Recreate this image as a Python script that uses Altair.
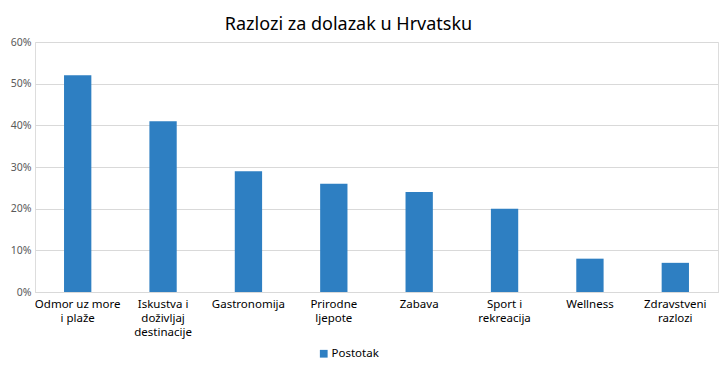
import altair as alt
import pandas as pd

categories = ["Odmor uz more|i plaže", "Iskustva i|doživljaj|destinacije", "Gastronomija",
              "Prirodne|ljepote", "Zabava", "Sport i|rekreacija", "Wellness", "Zdravstveni|razlozi"]
values = [0.52, 0.41, 0.29, 0.26, 0.24, 0.20, 0.08, 0.07]
series = ["Postotak"] * len(categories)
y_ticks = [0, 0.1, 0.2, 0.3, 0.4, 0.5, 0.6]

df = pd.DataFrame({"cat": categories, "val": values, "series": series})

FONT = "Noto Sans"

chart = alt.Chart(df).mark_bar(color="#2E7FC2").encode(
    x=alt.X("cat:N", sort=categories, title=None,
            scale=alt.Scale(paddingInner=0.68, paddingOuter=0.34),
            axis=alt.Axis(labelAngle=0, labelExpr="split(datum.label, '|')",
                          labelLineHeight=14, labelFontSize=11.5, labelColor="#000000",
                          labelFont=FONT, ticks=False, domainColor="#d9d9d9",
                          labelPadding=6, labelBaseline="top")),
    y=alt.Y("val:Q", title=None,
            scale=alt.Scale(domain=[0, 0.6], nice=False),
            axis=alt.Axis(values=y_ticks, format=".0%", domain=False, ticks=False,
                          gridColor="#d9d9d9", labelColor="#595959", labelFont=FONT,
                          labelFontSize=10.5, labelPadding=4)),
    color=alt.Color("series:N", scale=alt.Scale(range=["#2E7FC2"]),
                    legend=alt.Legend(title=None, orient="none", legendX=283, legendY=306,
                                      symbolType="square", symbolSize=60,
                                      labelFont=FONT, labelFontSize=11.5,
                                      labelColor="#000000", labelOffset=2)),
).properties(
    width=683, height=250,
    title=alt.TitleParams("Razlozi za dolazak u Hrvatsku", font=FONT, fontSize=18,
                          fontWeight="normal", color="#000000", anchor="middle",
                          dx=-28, offset=3),
    autosize=alt.AutoSizeParams(type="none"),
    padding={"left": 27, "top": 34, "right": 2, "bottom": 72},
).configure_view(stroke=None).configure(background="#ffffff")

chart.save("out.html", embed_options={"renderer": "svg", "actions": False})
